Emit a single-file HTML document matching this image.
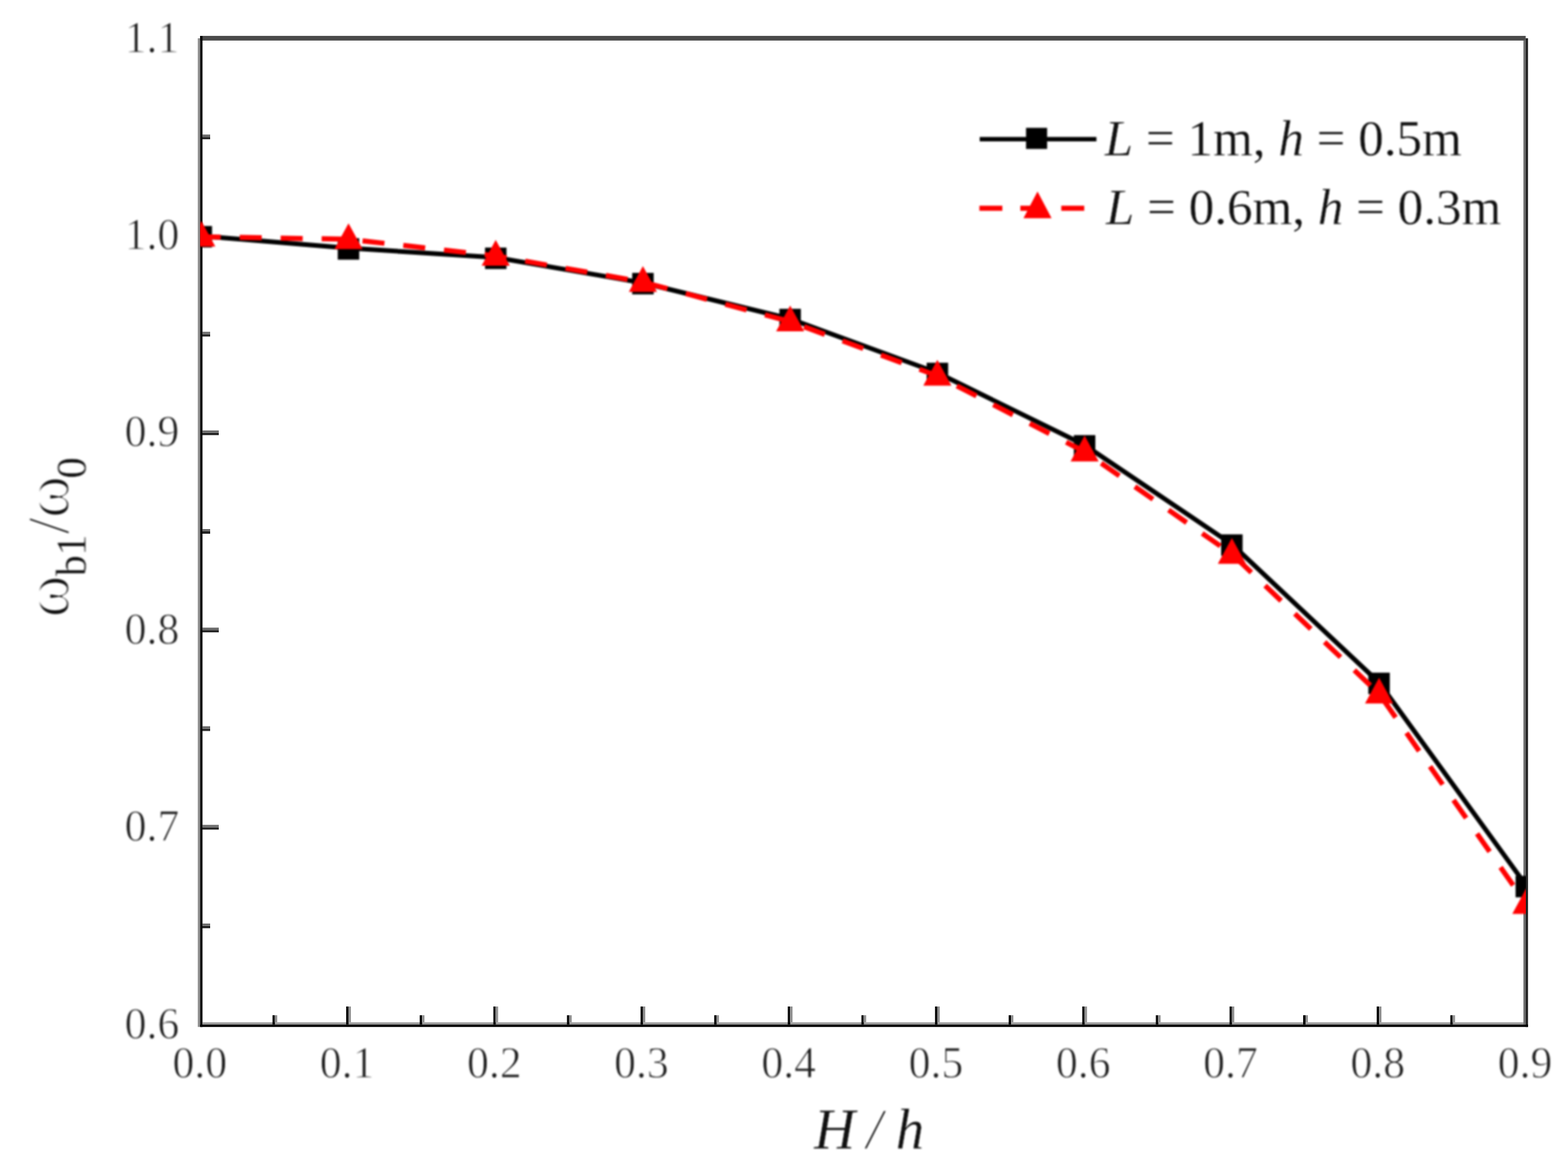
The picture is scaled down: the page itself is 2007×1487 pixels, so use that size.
<!DOCTYPE html>
<html lang="en">
<head>
<meta charset="utf-8">
<title>Frequency ratio versus crack depth ratio</title>
<style>
html,body{margin:0;padding:0;background:#fff;}
body{width:2007px;height:1487px;overflow:hidden;}
svg{display:block;position:absolute;left:0;top:0;}
.fr{filter:blur(0.45px);}
.sf{filter:blur(1.1px);}
.st{filter:blur(0.9px);}
text{font-family:"Liberation Serif","DejaVu Serif",serif;fill:#101010;stroke:#fff;stroke-width:0.35px;}
.tk{font-size:56px;}
.tk text{stroke-width:1px;fill:#1c1c1c;}
.lg{font-size:65.4px;}
.ax{font-size:73px;}
.it{font-style:italic;}
.om{stroke-width:2.4px;}
.sl{stroke-width:1.4px;}
</style>
</head>
<body>
<svg width="2007" height="1487" viewBox="0 0 2007 1487">
<rect x="0" y="0" width="2007" height="1487" fill="#ffffff"/>
<defs><clipPath id="plot"><rect x="256.2" y="52" width="1696.8" height="1259"/></clipPath></defs>
<g class="fr">
<rect x="256.2" y="45.9" width="1696.6" height="6" fill="#4a4a4a"/>
<rect x="253.2" y="49" width="3" height="1265.2" fill="#8e8e8e"/>
<rect x="256.2" y="46" width="3" height="1268.2" fill="#000"/>
<rect x="1949.9" y="52" width="3" height="1259.3" fill="#707070"/>
<rect x="1952.8" y="49" width="3" height="1265.2" fill="#222"/>
<rect x="259" y="1308.3" width="1691" height="3" fill="#999"/>
<rect x="256.2" y="1311.2" width="1699.6" height="3" fill="#000"/>
<rect x="348.8" y="1299.2" width="3" height="12" fill="#000"/><rect x="351.8" y="1299.2" width="3" height="9" fill="#8e8e8e"/>
<rect x="443.1" y="1288.0" width="3" height="23.2" fill="#000"/><rect x="446.1" y="1288.0" width="3" height="20.2" fill="#8e8e8e"/>
<rect x="537.3" y="1299.2" width="3" height="12" fill="#000"/><rect x="540.3" y="1299.2" width="3" height="9" fill="#8e8e8e"/>
<rect x="631.5" y="1288.0" width="3" height="23.2" fill="#000"/><rect x="634.5" y="1288.0" width="3" height="20.2" fill="#8e8e8e"/>
<rect x="725.7" y="1299.2" width="3" height="12" fill="#000"/><rect x="728.7" y="1299.2" width="3" height="9" fill="#8e8e8e"/>
<rect x="819.9" y="1288.0" width="3" height="23.2" fill="#000"/><rect x="822.9" y="1288.0" width="3" height="20.2" fill="#8e8e8e"/>
<rect x="914.2" y="1299.2" width="3" height="12" fill="#000"/><rect x="917.2" y="1299.2" width="3" height="9" fill="#8e8e8e"/>
<rect x="1008.4" y="1288.0" width="3" height="23.2" fill="#000"/><rect x="1011.4" y="1288.0" width="3" height="20.2" fill="#8e8e8e"/>
<rect x="1102.6" y="1299.2" width="3" height="12" fill="#000"/><rect x="1105.6" y="1299.2" width="3" height="9" fill="#8e8e8e"/>
<rect x="1196.8" y="1288.0" width="3" height="23.2" fill="#000"/><rect x="1199.8" y="1288.0" width="3" height="20.2" fill="#8e8e8e"/>
<rect x="1291.1" y="1299.2" width="3" height="12" fill="#000"/><rect x="1294.1" y="1299.2" width="3" height="9" fill="#8e8e8e"/>
<rect x="1385.3" y="1288.0" width="3" height="23.2" fill="#000"/><rect x="1388.3" y="1288.0" width="3" height="20.2" fill="#8e8e8e"/>
<rect x="1479.5" y="1299.2" width="3" height="12" fill="#000"/><rect x="1482.5" y="1299.2" width="3" height="9" fill="#8e8e8e"/>
<rect x="1573.8" y="1288.0" width="3" height="23.2" fill="#000"/><rect x="1576.8" y="1288.0" width="3" height="20.2" fill="#8e8e8e"/>
<rect x="1668.0" y="1299.2" width="3" height="12" fill="#000"/><rect x="1671.0" y="1299.2" width="3" height="9" fill="#8e8e8e"/>
<rect x="1762.2" y="1288.0" width="3" height="23.2" fill="#000"/><rect x="1765.2" y="1288.0" width="3" height="20.2" fill="#8e8e8e"/>
<rect x="1856.4" y="1299.2" width="3" height="12" fill="#000"/><rect x="1859.4" y="1299.2" width="3" height="9" fill="#8e8e8e"/>
<rect x="259" y="175.2" width="10" height="3" fill="#222"/><rect x="259" y="172.2" width="10" height="3" fill="#6a6a6a"/>
<rect x="259" y="427.6" width="10" height="3" fill="#222"/><rect x="259" y="424.6" width="10" height="3" fill="#6a6a6a"/>
<rect x="259" y="553.8" width="21" height="3" fill="#222"/><rect x="259" y="550.8" width="21" height="3" fill="#6a6a6a"/>
<rect x="259" y="680.0" width="10" height="3" fill="#222"/><rect x="259" y="677.0" width="10" height="3" fill="#6a6a6a"/>
<rect x="259" y="806.2" width="21" height="3" fill="#222"/><rect x="259" y="803.2" width="21" height="3" fill="#6a6a6a"/>
<rect x="259" y="932.4" width="10" height="3" fill="#222"/><rect x="259" y="929.4" width="10" height="3" fill="#6a6a6a"/>
<rect x="259" y="1058.6" width="21" height="3" fill="#222"/><rect x="259" y="1055.6" width="21" height="3" fill="#6a6a6a"/>
<rect x="259" y="1184.8" width="10" height="3" fill="#222"/><rect x="259" y="1181.8" width="10" height="3" fill="#6a6a6a"/>
</g>
<g clip-path="url(#plot)"><g class="sf">
<polyline points="257.6,302.0 446.1,317.5 634.5,329.5 822.9,362.0 1011.4,408.0 1199.8,477.0 1388.3,569.5 1576.8,696.5 1765.2,873.5 1953.7,1133.5" fill="none" stroke="#000" stroke-width="6" stroke-linejoin="round"/>
<rect x="243.9" y="289.2" width="27.5" height="27.5" fill="#000"/>
<rect x="432.3" y="304.8" width="27.5" height="27.5" fill="#000"/>
<rect x="620.8" y="316.8" width="27.5" height="27.5" fill="#000"/>
<rect x="809.2" y="349.2" width="27.5" height="27.5" fill="#000"/>
<rect x="997.6" y="395.2" width="27.5" height="27.5" fill="#000"/>
<rect x="1186.1" y="464.2" width="27.5" height="27.5" fill="#000"/>
<rect x="1374.5" y="556.8" width="27.5" height="27.5" fill="#000"/>
<rect x="1563.0" y="683.8" width="27.5" height="27.5" fill="#000"/>
<rect x="1751.4" y="860.8" width="27.5" height="27.5" fill="#000"/>
<rect x="1939.9" y="1120.8" width="27.5" height="27.5" fill="#000"/>
<polyline points="257.6,303.0 446.1,306.2 634.5,327.4 822.9,361.0 1011.4,411.5 1199.8,481.0 1388.3,578.0 1576.8,709.0 1765.2,887.8 1953.7,1157.0" fill="none" stroke="#ff0000" stroke-width="6.5" stroke-dasharray="28.2 24.26" stroke-dashoffset="3.25" stroke-linejoin="round"/>
<polygon points="257.6,282.5 275.6,315.5 239.6,315.5" fill="#ff0000"/>
<polygon points="446.1,285.7 464.1,318.7 428.1,318.7" fill="#ff0000"/>
<polygon points="634.5,306.9 652.5,339.9 616.5,339.9" fill="#ff0000"/>
<polygon points="822.9,340.5 840.9,373.5 804.9,373.5" fill="#ff0000"/>
<polygon points="1011.4,391.0 1029.4,424.0 993.4,424.0" fill="#ff0000"/>
<polygon points="1199.8,460.5 1217.8,493.5 1181.8,493.5" fill="#ff0000"/>
<polygon points="1388.3,557.5 1406.3,590.5 1370.3,590.5" fill="#ff0000"/>
<polygon points="1576.8,688.5 1594.8,721.5 1558.8,721.5" fill="#ff0000"/>
<polygon points="1765.2,867.3 1783.2,900.3 1747.2,900.3" fill="#ff0000"/>
<polygon points="1953.7,1136.5 1971.7,1169.5 1935.7,1169.5" fill="#ff0000"/>
</g></g>
<g class="tk st" text-anchor="middle">
<text x="255.8" y="1379">0.0</text>
<text x="444.2" y="1379">0.1</text>
<text x="632.7" y="1379">0.2</text>
<text x="821.1" y="1379">0.3</text>
<text x="1009.6" y="1379">0.4</text>
<text x="1198.0" y="1379">0.5</text>
<text x="1386.5" y="1379">0.6</text>
<text x="1575.0" y="1379">0.7</text>
<text x="1763.4" y="1379">0.8</text>
<text x="1951.9" y="1379">0.9</text>
</g>
<g class="tk st" text-anchor="end">
<text x="229.6" y="66.5">1.1</text>
<text x="229.6" y="318.9">1.0</text>
<text x="229.6" y="571.3">0.9</text>
<text x="229.6" y="823.7">0.8</text>
<text x="229.6" y="1076.1">0.7</text>
<text x="229.6" y="1328.5">0.6</text>
</g>
<text class="ax it st" y="1470.4"><tspan x="1042">H</tspan> <tspan class="sl" x="1109">/</tspan> <tspan x="1146.5">h</tspan></text>
<text class="ax st" transform="translate(87.6 787) rotate(-90)"><tspan class="om" x="-3.2" y="0" font-size="82">ω</tspan><tspan x="49.5" y="22" font-size="54">b</tspan><tspan x="76" y="22" font-size="54">1</tspan><tspan class="sl" x="103.5" y="0" font-size="76">/</tspan><tspan class="om" x="124" y="0" font-size="82">ω</tspan><tspan x="174.5" y="22" font-size="55">0</tspan></text>
<g class="sf">
<rect x="1254" y="175.3" width="149.4" height="5.6" fill="#000"/>
<rect x="1313.3" y="163.6" width="27" height="27" fill="#000"/>
<path d="M1253.6 266.5H1403" fill="none" stroke="#ff0000" stroke-width="6.5" stroke-dasharray="29.4 23"/>
<polygon points="1328,245 1346,279.3 1310,279.3" fill="#ff0000"/>
<text class="lg" x="1414" y="198.8"><tspan class="it">L</tspan> = 1m, <tspan class="it">h</tspan> = 0.5m</text>
<text class="lg" x="1415.5" y="287.4"><tspan class="it">L</tspan> = 0.6m, <tspan class="it">h</tspan> = 0.3m</text>
</g>
</svg>
</body>
</html>
